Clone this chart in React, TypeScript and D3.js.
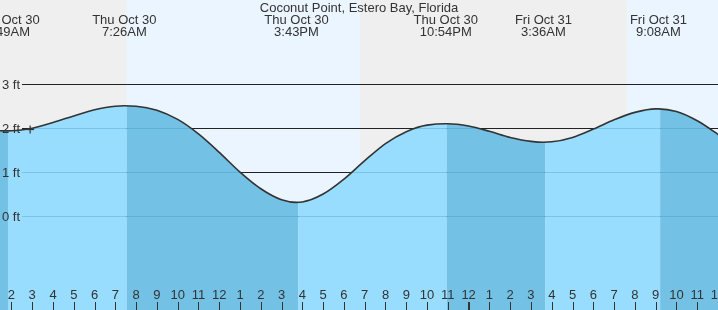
import React from "react";
import * as d3 from "d3";

const W = 718;
const H = 310;

const title = "Coconut Point, Estero Bay, Florida";

// tide extremes (labelled)
const tideTimes = [
  "2025-10-30T01:49",
  "2025-10-30T07:26",
  "2025-10-30T15:43",
  "2025-10-30T22:54",
  "2025-10-31T03:36",
  "2025-10-31T09:08",
];
const tideHeights = [1.94, 2.51, 0.31, 2.1, 1.68, 2.44];

// hourly readings of the curve
const hourlyStart = "2025-10-30T00:00";
const hourlyHeights = [
  2.01, 1.955, 1.941, 2.0, 2.13, 2.28, 2.42, 2.5, 2.5, 2.41, 2.2, 1.87, 1.45,
  1.0, 0.62, 0.37, 0.32, 0.5, 0.84, 1.26, 1.65, 1.92, 2.07, 2.1, 2.05, 1.93,
  1.79, 1.7, 1.69, 1.79, 1.98, 2.19, 2.36, 2.44, 2.38, 2.17, 1.86, 1.52,
];

// rising / falling phase changes (band edges)
const phaseTimes = [
  "2025-10-30T01:50",
  "2025-10-30T07:33",
  "2025-10-30T15:48",
  "2025-10-30T22:57",
  "2025-10-31T03:41",
  "2025-10-31T09:13",
];
const phaseFallingFirst = true;

// daylight
const sunriseTimes = ["2025-10-30T07:33", "2025-10-31T07:37"];
const sunsetTimes = ["2025-10-30T18:46"];

const domainStart = "2025-10-30T01:27";
const domainEnd = "2025-10-31T12:00";

const yTicks = [0, 1, 2, 3];
const yTickLabels = ["0 ft", "1 ft", "2 ft", "3 ft"];

const nowTime = "2025-10-30T02:54";
const nowHeight = 1.97;

const parse = d3.utcParse("%Y-%m-%dT%H:%M")!;
const fmtDate = d3.utcFormat("%a %b %-d");
const fmtTime = d3.utcFormat("%-I:%M%p");
const fmtHour = d3.utcFormat("%-I");

const FONT = "'Liberation Sans', Arial, Helvetica, sans-serif";
const TEXT = "#333";
const NIGHT = "#efefef";
const DAY = "#ebf5ff";
const WATER_LIGHT = "#98dcfe";
const WATER_DARK = "#73c1e5";

export default function App() {
  const x = d3
    .scaleUtc()
    .domain([parse(domainStart)!, parse(domainEnd)!])
    .range([0, W]);
  const y = d3.scaleLinear().domain([0, 3]).range([216, 84.3]);

  const t0 = parse(hourlyStart)!;
  const points = hourlyHeights.map((v, i) => ({
    t: d3.utcHour.offset(t0, i),
    v,
  }));
  tideTimes.forEach((s, i) => points.push({ t: parse(s)!, v: tideHeights[i] }));
  points.sort((a, b) => +a.t - +b.t);

  const area = d3
    .area<{ t: Date; v: number }>()
    .x((d) => x(d.t))
    .y0(H)
    .y1((d) => y(d.v))
    .curve(d3.curveMonotoneX);
  const line = d3
    .line<{ t: Date; v: number }>()
    .x((d) => x(d.t))
    .y((d) => y(d.v))
    .curve(d3.curveMonotoneX);

  const [d0, d1] = x.domain();

  // phase bands
  const edges = [d0, ...phaseTimes.map((s) => parse(s)!), d1];
  const bands = edges.slice(0, -1).map((s, i) => ({
    x0: x(s),
    x1: x(edges[i + 1]),
    dark: phaseFallingFirst ? i % 2 === 0 : i % 2 === 1,
  }));

  // day/night
  const sunEvents = [
    ...sunriseTimes.map((s) => ({ t: parse(s)!, rise: true })),
    ...sunsetTimes.map((s) => ({ t: parse(s)!, rise: false })),
  ].sort((a, b) => +a.t - +b.t);
  const skyEdges = [d0, ...sunEvents.map((e) => e.t), d1];
  const sky = skyEdges.slice(0, -1).map((s, i) => ({
    x0: x(s),
    x1: x(skyEdges[i + 1]),
    night: i === 0 ? sunEvents[0].rise : !sunEvents[i - 1].rise,
  }));

  const hourTicks = x.ticks(d3.utcHour.every(1)!);
  const gy = (v: number) => Math.round(y(v)) + 0.5;

  const nx = x(parse(nowTime)!);
  const ny = y(nowHeight);

  return (
    <div style={{ position: "fixed", left: 0, top: 0 }}>
      <svg width={W} height={H} style={{ display: "block" }} fontFamily={FONT}>
        <defs>
          <clipPath id="water">
            <path d={area(points) || ""} />
          </clipPath>
        </defs>
        {sky.map((s, i) => (
          <rect
            key={"s" + i}
            x={s.x0}
            y={0}
            width={s.x1 - s.x0}
            height={H}
            fill={s.night ? NIGHT : DAY}
          />
        ))}
        {yTicks.map((v) => (
          <line
            key={"g" + v}
            x1={22}
            x2={W}
            y1={gy(v)}
            y2={gy(v)}
            stroke="#222"
            strokeWidth={1}
          />
        ))}
        <g clipPath="url(#water)">
          {bands.map((b, i) => (
            <rect
              key={"b" + i}
              x={b.x0}
              y={0}
              width={b.x1 - b.x0}
              height={H}
              fill={b.dark ? WATER_DARK : WATER_LIGHT}
            />
          ))}
          {yTicks.map((v) => (
            <line
              key={"w" + v}
              x1={22}
              x2={W}
              y1={gy(v)}
              y2={gy(v)}
              stroke="#2f8fc4"
              strokeOpacity={0.3}
              strokeWidth={1}
            />
          ))}
        </g>
        <path
          d={line(points) || ""}
          fill="none"
          stroke="#333"
          strokeWidth={1.6}
        />
        {yTicks.map((v, i) => (
          <text
            key={"yl" + v}
            x={2}
            y={y(v)}
            dy="0.36em"
            fontSize={13}
            fill={TEXT}
          >
            {yTickLabels[i]}
          </text>
        ))}
        <g stroke="#333" strokeWidth={1.2}>
          <line x1={nx - 4} x2={nx + 4} y1={ny} y2={ny} />
          <line x1={nx} x2={nx} y1={ny - 4} y2={ny + 4} />
        </g>
        {hourTicks.map((t, i) => {
          const mid = t.getUTCHours() === 0;
          const tx = Math.round(x(t));
          return (
            <g key={"h" + i}>
              <line
                x1={mid ? tx : tx + 0.5}
                x2={mid ? tx : tx + 0.5}
                y1={302}
                y2={H}
                stroke="#333"
                strokeWidth={mid ? 2 : 1}
              />
              <text
                x={x(t)}
                y={299}
                textAnchor="middle"
                fontSize={13}
                fill={TEXT}
              >
                {fmtHour(t)}
              </text>
            </g>
          );
        })}
        <text x={359} y={12} textAnchor="middle" fontSize={13} fill={TEXT}>
          {title}
        </text>
        {tideTimes.map((s, i) => {
          const t = parse(s)!;
          const tx = x(t);
          return (
            <g key={"tl" + i}>
              <text x={tx} y={24} textAnchor="middle" fontSize={13} fill={TEXT}>
                {fmtDate(t)}
              </text>
              <text x={tx} y={36} textAnchor="middle" fontSize={13} fill={TEXT}>
                {fmtTime(t)}
              </text>
            </g>
          );
        })}
      </svg>
    </div>
  );
}
